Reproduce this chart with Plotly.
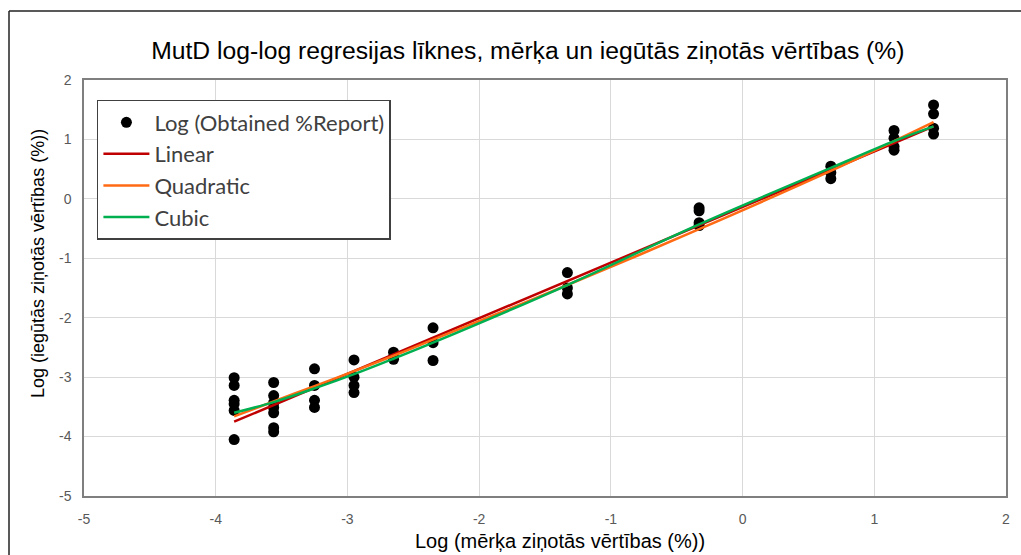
import plotly.graph_objects as go

# ---- data ----
x_levels = [-3.86, -3.56, -3.25, -2.95, -2.65, -2.35, -1.33, -0.33, 0.67, 1.15, 1.45]
obs_by_level = [
    [-3.01, -3.14, -3.39, -3.45, -3.56, -4.05],
    [-3.09, -3.31, -3.43, -3.51, -3.60, -3.85, -3.92],
    [-2.86, -3.14, -3.39, -3.51],
    [-2.71, -3.00, -3.14, -3.26],
    [-2.58, -2.66, -2.70],
    [-2.17, -2.42, -2.72],
    [-1.24, -1.50, -1.60],
    [-0.15, -0.20, -0.40, -0.45],
    [0.55, 0.44, 0.34],
    [1.15, 1.02, 0.88, 0.82],
    [1.58, 1.43, 1.19, 1.09],
]
linear_y = [-3.75, -3.47, -3.18, -2.90, -2.62, -2.34, -1.38, -0.45, 0.49, 0.94, 1.22]
quadratic_y = [-3.66, -3.41, -3.15, -2.90, -2.64, -2.37, -1.45, -0.51, 0.47, 0.97, 1.29]
cubic_y = [-3.60, -3.42, -3.19, -2.95, -2.69, -2.42, -1.45, -0.43, 0.52, 0.97, 1.22]

x_ticks = [-5, -4, -3, -2, -1, 0, 1, 2]
y_ticks = [-5, -4, -3, -2, -1, 0, 1, 2]
x_tick_labels = ["-5", "-4", "-3", "-2", "-1", "0", "1", "2"]
y_tick_labels = ["-5", "-4", "-3", "-2", "-1", "0", "1", "2"]

title_text = "MutD log-log regresijas līknes, mērķa un iegūtās ziņotās vērtības (%)"
x_title = "Log (mērķa ziņotās vērtības (%))"
y_title = "Log (iegūtās ziņotās vērtības (%))"

x_obs, y_obs = [], []
for xv, ys in zip(x_levels, obs_by_level):
    for yv in ys:
        x_obs.append(xv)
        y_obs.append(yv)

fig = go.Figure()
fig.add_trace(go.Scatter(x=x_obs, y=y_obs, mode="markers", name="Log (Obtained %Report)",
                         marker=dict(color="black", size=11)))
fig.add_trace(go.Scatter(x=x_levels, y=linear_y, mode="lines", name="Linear",
                         line=dict(color="#c00000", width=2.5)))
fig.add_trace(go.Scatter(x=x_levels, y=quadratic_y, mode="lines", name="Quadratic",
                         line=dict(color="#ff6a13", width=2.5, shape="spline")))
fig.add_trace(go.Scatter(x=x_levels, y=cubic_y, mode="lines", name="Cubic",
                         line=dict(color="#00b050", width=2.5, shape="spline")))

axis_common = dict(showgrid=True, gridcolor="#d9d9d9", gridwidth=1, zeroline=False,
                   showline=True, linecolor="#7f7f7f", linewidth=1.5, mirror=True,
                   ticks="", tickfont=dict(family="Liberation Sans, Arial", size=14, color="#595959"))

fig.update_layout(
    width=1021, height=555,
    margin=dict(l=84, r=15, t=80, b=59),
    paper_bgcolor="white", plot_bgcolor="white",
    title=dict(text=title_text, x=0.517, xref="container", y=1 - 50 / 555, yref="container",
               xanchor="center", yanchor="middle",
               font=dict(family="Liberation Sans, Arial", size=24.7, color="black")),
    xaxis=dict(range=[-5, 2], tickvals=x_ticks, ticktext=x_tick_labels,
               ticklabelstandoff=9, **axis_common),
    yaxis=dict(range=[-5, 2], tickvals=y_ticks, ticktext=y_tick_labels,
               ticklabelstandoff=8, **axis_common),
    showlegend=True,
    legend=dict(x=0.014, y=0.952, xanchor="left", yanchor="top",
                bgcolor="white", bordercolor="#404040", borderwidth=1.5,
                font=dict(family="Lato, Noto Sans", size=22, color="#404040"),
                tracegroupgap=0, itemwidth=46),
    annotations=[
        dict(text=x_title, xref="paper", yref="paper", x=0.516, y=(496 - 541) / 416,
             xanchor="center", yanchor="middle", showarrow=False,
             font=dict(family="Liberation Sans, Arial", size=20, color="black")),
        dict(text=y_title, xref="paper", yref="paper", x=(38 - 84) / 922, y=(496 - 264) / 416,
             xanchor="center", yanchor="middle", showarrow=False, textangle=-90,
             font=dict(family="Liberation Sans, Arial", size=18, color="black")),
    ],
    shapes=[
        dict(type="line", xref="paper", yref="paper", x0=(9 - 84) / 922, x1=(1030 - 84) / 922,
             y0=(496 - 11) / 416, y1=(496 - 11) / 416, line=dict(color="#222222", width=1.5)),
        dict(type="line", xref="paper", yref="paper", x0=(9 - 84) / 922, x1=(9 - 84) / 922,
             y0=(496 - 11) / 416, y1=(496 - 560) / 416, line=dict(color="#222222", width=1.5)),
    ],
)

fig.write_html("out.html")
